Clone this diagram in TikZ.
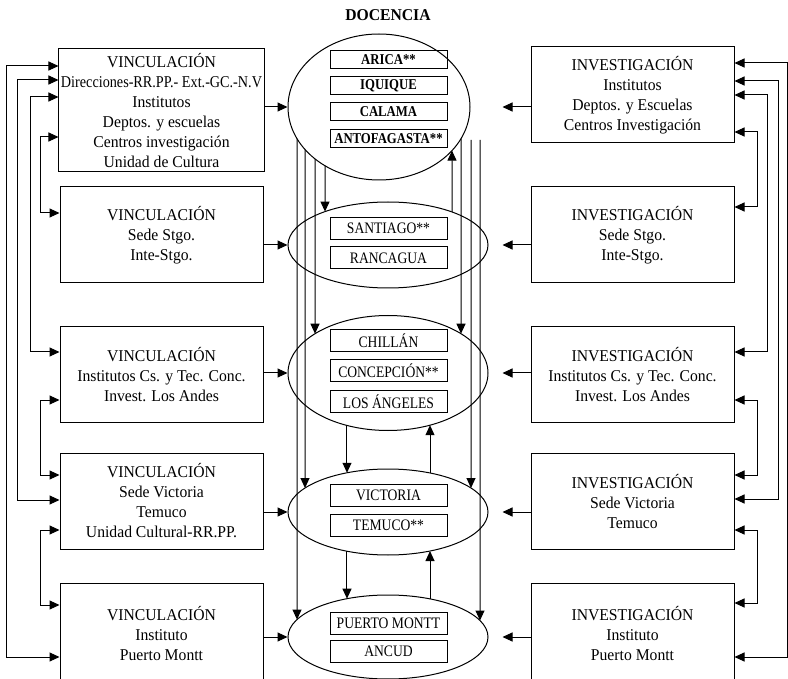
\documentclass[tikz,border=0pt]{standalone}
\usepackage{fontspec}
\setmainfont{Liberation Serif}[FakeStretch=0.95]
\newfontfamily\narrowfont{Liberation Serif}[FakeStretch=0.86]
\newfontfamily\cityfont{Liberation Serif}[FakeStretch=0.85]
\usetikzlibrary{shapes.geometric, arrows.meta, intersections, calc}

\tikzset{
	arr/.style={-{Triangle[length=10pt,width=9pt]}, line width=1pt},
	dblarr/.style={{Triangle[length=10pt,width=9pt]}-{Triangle[length=10pt,width=9pt]}, line width=1pt},
	unitbox/.style={draw, line width=1pt, minimum width=203pt, align=center, inner sep=2pt, font=\fontsize{16.5}{20}\selectfont},
	sedering/.style={draw, ellipse, line width=1pt, inner sep=0pt},
	citybox/.style={draw, line width=1pt, minimum width=117pt, minimum height=22pt, inner sep=0pt, font=\cityfont\fontsize{16}{18}\selectfont},
	citybold/.style={citybox, minimum height=18pt, font=\cityfont\bfseries\fontsize{15}{18}\selectfont},
}

% arrows from one ellipse to the next, at a given x
\newcommand{\linkdown}[3]{%
	\path[name path=vl] (#1,0) -- (#1,700);
	\path[name intersections={of=vl and #2, name=s, sort by=vl}];
	\path[name intersections={of=vl and #3, name=t, sort by=vl}];
	\draw[arr] (s-2) -- (t-1);}
\newcommand{\linkup}[3]{%
	\path[name path=vl] (#1,0) -- (#1,700);
	\path[name intersections={of=vl and #2, name=s, sort by=vl}];
	\path[name intersections={of=vl and #3, name=t, sort by=vl}];
	\draw[arr] (s-1) -- (t-2);}
% same, starting beside the top ellipse
\newcommand{\linkfrom}[3]{%
	\path[name path=vl] (#1,0) -- (#1,700);
	\path[name intersections={of=vl and #3, name=t, sort by=vl}];
	\draw[arr] (#1,0 |- #2) -- (t-1);}

\begin{document}
\begin{tikzpicture}[x=1pt, y=-1pt]
	\useasboundingbox (0,0) rectangle (788,679);
	
	\node[font=\bfseries\fontsize{16.5}{20}\selectfont] (title) at (388,15) {DOCENCIA};
	
	%left - VINCULACIÓN
	\node[unitbox, minimum height=123pt] (V1) at (161.5,110.5) {VINCULACIÓN\\{\narrowfont Direcciones-RR.PP.- Ext.-GC.-N.V}\\Institutos\\Deptos. y escuelas\\Centros investigación\\Unidad de Cultura};
	\node[unitbox, minimum height=96pt]  (V2) at (161.5,235)   {VINCULACIÓN\\Sede Stgo.\\Inte-Stgo.};
	\node[unitbox, minimum height=95pt]  (V3) at (161.5,374.5) {VINCULACIÓN\\Institutos Cs. y Tec. Conc.\\Invest. Los Andes};
	\node[unitbox, minimum height=96pt]  (V4) at (161.5,501)   {VINCULACIÓN\\Sede Victoria\\Temuco\\Unidad Cultural-RR.PP.};
	\node[unitbox, minimum height=100pt] (V5) at (161.5,633)   {VINCULACIÓN\\Instituto\\Puerto Montt};
	
	%right - INVESTIGACIÓN
	\node[unitbox, minimum height=96pt]  (I1) at (632.5,95)    {INVESTIGACIÓN\\Institutos\\Deptos. y Escuelas\\Centros Investigación};
	\node[unitbox, minimum height=96pt]  (I2) at (632.5,235)   {INVESTIGACIÓN\\Sede Stgo.\\Inte-Stgo.};
	\node[unitbox, minimum height=95pt]  (I3) at (632.5,374.5) {INVESTIGACIÓN\\Institutos Cs. y Tec. Conc.\\Invest. Los Andes};
	\node[unitbox, minimum height=96pt]  (I4) at (632.5,501)   {INVESTIGACIÓN\\Sede Victoria\\Temuco};
	\node[unitbox, minimum height=100pt] (I5) at (632.5,633)   {INVESTIGACIÓN\\Instituto\\Puerto Montt};
	
	%centre - DOCENCIA ellipses
	\node[sedering, name path=e1, minimum width=182pt, minimum height=146pt] (E1) at (379,107) {};
	\node[sedering, name path=e2, minimum width=200pt, minimum height=86pt]  (E2) at (388,245) {};
	\node[sedering, name path=e3, minimum width=200pt, minimum height=115pt] (E3) at (388,373) {};
	\node[sedering, name path=e4, minimum width=200pt, minimum height=86pt]  (E4) at (388,512) {};
	\node[sedering, name path=e5, minimum width=200pt, minimum height=84pt]  (E5) at (388,637) {};
	\coordinate (e1side) at (470,140);
	
		%cities
		\node[citybold] (arica) at (388.5,60)  {ARICA**};
		\node[citybold] (iquique) at (388.5,86)  {IQUIQUE};
		\node[citybold] (calama) at (388.5,112) {CALAMA};
		\node[citybold] (antofagasta) at (388.5,139) {ANTOFAGASTA**};
		\node[citybox] (santiago) at (388.5,228.5) {SANTIAGO**};
		\node[citybox] (rancagua) at (388.5,258)   {RANCAGUA};
		\node[citybox] (chillan) at (388.5,341)    {CHILLÁN};
		\node[citybox] (concepcion) at (388.5,370.5) {CONCEPCIÓN**};
		\node[citybox] (losangeles) at (388.5,401.5) {LOS ÁNGELES};
		\node[citybox] (victoria) at (388.5,495.5) {VICTORIA};
		\node[citybox] (temuco) at (388.5,525.5)   {TEMUCO**};
		\node[citybox] (puertomontt) at (388.5,623) {PUERTO MONTT};
		\node[citybox] (ancud) at (388.5,651)      {ANCUD};
	
	%VINCULACIÓN -> ellipses
	\draw[arr] (V1.east |- E1) -- (E1.west);
	\draw[arr] (V2.east |- E2) -- (E2.west);
	\draw[arr] (V3.east |- E3) -- (E3.west);
	\draw[arr] (V4.east |- E4) -- (E4.west);
	\draw[arr] (V5.east |- E5) -- (E5.west);
	
	%INVESTIGACIÓN -> ellipses
	\draw[arr] (I1.west |- E1) -- ++(-28,0);
	\draw[arr] (I2.west |- E2) -- ++(-28,0);
	\draw[arr] (I3.west |- E3) -- ++(-28,0);
	\draw[arr] (I4.west |- E4) -- ++(-28,0);
	\draw[arr] (I5.west |- E5) -- ++(-28,0);
	
	%left - feedback lines
	\draw[dblarr] (V1.west |- 0,66)  -| (6,657)  -- (V5.west |- 0,657);	%V1--V5
	\draw[dblarr] (V1.west |- 0,80)  -| (17,500) -- (V4.west |- 0,500);	%V1--V4
	\draw[dblarr] (V1.west |- 0,97)  -| (30,352) -- (V3.west |- 0,352);	%V1--V3
	\draw[dblarr] (V1.west |- 0,137) -| (40,213) -- (V2.west |- 0,213);	%V1--V2
	\draw[dblarr] (V3.west |- 0,400) -| (40,475) -- (V4.west |- 0,475);	%V3--V4
	\draw[dblarr] (V4.west |- 0,530) -| (40,605) -- (V5.west |- 0,605);	%V4--V5
	
	%right - feedback lines
	\draw[dblarr] (I1.east |- 0,63)  -| (787,657) -- (I5.east |- 0,657);	%I1--I5
	\draw[dblarr] (I1.east |- 0,81)  -| (778,499) -- (I4.east |- 0,499);	%I1--I4
	\draw[dblarr] (I1.east |- 0,95)  -| (767,352) -- (I3.east |- 0,352);	%I1--I3
	\draw[dblarr] (I1.east |- 0,132) -| (757,207) -- (I2.east |- 0,207);	%I1--I2
	\draw[dblarr] (I3.east |- 0,400) -| (757,475) -- (I4.east |- 0,475);	%I3--I4
	\draw[dblarr] (I4.east |- 0,530) -| (757,603) -- (I5.east |- 0,603);	%I4--I5
	
	%ellipse to ellipse
	\linkdown{297}{e1}{e5}
	\linkdown{305}{e1}{e4}
	\linkdown{315}{e1}{e3}
	\linkdown{325}{e1}{e2}
	\linkup{452}{e2}{e1}
	\linkdown{461}{e1}{e3}
	\linkfrom{471}{e1side}{e4}
	\linkfrom{480}{e1side}{e5}
	\linkdown{347}{e3}{e4}
	\linkup{430}{e4}{e3}
	\linkdown{347}{e4}{e5}
	\linkup{430}{e5}{e4}
\end{tikzpicture}
\end{document}
